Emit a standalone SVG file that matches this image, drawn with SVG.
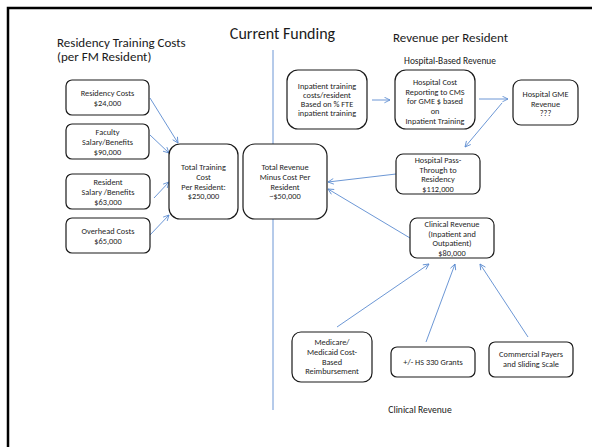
<svg xmlns="http://www.w3.org/2000/svg" width="592" height="447" viewBox="0 0 592 447">
  <style>
    .frame { fill: none; stroke: #000; stroke-width: 2.5; }
    .box { fill: #fff; stroke: #1a1a1a; stroke-width: 1.2; }
    .t { font-family: Carlito, "Liberation Sans", Arial, sans-serif; font-size: 8.3px; fill: #262626; text-anchor: middle; }
    .h { font-family: Carlito, "Liberation Sans", Arial, sans-serif; fill: #1a1a1a; }
    .conn { stroke: #5b8bd0; stroke-width: 0.9; fill: none; }
    .arr { marker-end: url(#open); }
  </style>
  <defs>
    <marker id="open" viewBox="0 0 10 10" refX="9" refY="5" markerWidth="7" markerHeight="7" orient="auto" markerUnits="userSpaceOnUse">
      <path d="M1,1 L9,5 L1,9" fill="none" stroke="#5b8bd0" stroke-width="1.2"/>
    </marker>
  </defs>

  <rect width="592" height="447" fill="#fff"/>
  <!-- page frame (only top and left edges fall inside the view) -->
  <rect class="frame" x="8" y="8" width="600" height="460"/>

  <!-- headings -->
  <text class="h" x="282.5" y="39" font-size="16" text-anchor="middle">Current Funding</text>
  <text class="h" x="57" y="47" font-size="13">Residency Training Costs</text>
  <text class="h" x="57" y="61" font-size="13">(per FM Resident)</text>
  <text class="h" x="393" y="42" font-size="13">Revenue per Resident</text>
  <text class="h" x="450" y="64" font-size="9.4" text-anchor="middle">Hospital-Based Revenue</text>
  <text class="h" x="420" y="413" font-size="9.6" text-anchor="middle">Clinical Revenue</text>

  <!-- connectors -->
  <g id="connectors">
    <line class="conn" x1="273" y1="50" x2="273" y2="410" stroke-width="1.2"/>
    <line class="conn arr" x1="150" y1="98" x2="178" y2="143"/>
    <line class="conn arr" x1="150" y1="135" x2="169" y2="153"/>
    <line class="conn arr" x1="154" y1="198" x2="169" y2="182"/>
    <line class="conn arr" x1="150" y1="235" x2="169" y2="215"/>
    <line class="conn arr" x1="372" y1="100" x2="390" y2="100"/>
    <line class="conn arr" x1="479" y1="99" x2="508" y2="99"/>
    <line class="conn arr" x1="502" y1="103" x2="465" y2="147"/>
    <line class="conn arr" x1="396" y1="174" x2="328" y2="182"/>
    <line class="conn arr" x1="410" y1="238" x2="328" y2="189"/>
    <line class="conn arr" x1="337" y1="327" x2="429" y2="264"/>
    <line class="conn arr" x1="426" y1="342" x2="455" y2="264"/>
    <line class="conn arr" x1="528" y1="337" x2="480" y2="264"/>
  </g>

  <!-- cost side -->
  <g id="residency-costs">
    <rect class="box" x="66" y="80" width="83" height="35" rx="6"/>
    <text class="t" x="107.5" y="96">Residency Costs</text>
    <text class="t" x="107.5" y="106">$24,000</text>
  </g>
  <g id="faculty">
    <rect class="box" x="66" y="124" width="83" height="35" rx="6"/>
    <text class="t" x="107.5" y="135">Faculty</text>
    <text class="t" x="107.5" y="145">Salary/Benefits</text>
    <text class="t" x="107.5" y="155">$90,000</text>
  </g>
  <g id="resident-salary">
    <rect class="box" x="66" y="174" width="84" height="35" rx="6"/>
    <text class="t" x="108" y="185">Resident</text>
    <text class="t" x="108" y="195">Salary /Benefits</text>
    <text class="t" x="108" y="205">$63,000</text>
  </g>
  <g id="overhead">
    <rect class="box" x="66" y="218" width="84" height="35" rx="6"/>
    <text class="t" x="108" y="234">Overhead Costs</text>
    <text class="t" x="108" y="244">$65,000</text>
  </g>
  <g id="total-training">
    <rect class="box" x="169" y="144" width="69" height="75" rx="11"/>
    <text class="t" x="203.5" y="170">Total Training</text>
    <text class="t" x="203.5" y="180">Cost</text>
    <text class="t" x="203.5" y="189.5">Per Resident:</text>
    <text class="t" x="203.5" y="199">$250,000</text>
  </g>
  <g id="total-revenue">
    <rect class="box" x="243" y="144" width="84" height="75" rx="12"/>
    <text class="t" x="285" y="170">Total Revenue</text>
    <text class="t" x="285" y="180">Minus Cost Per</text>
    <text class="t" x="285" y="189.5">Resident</text>
    <text class="t" x="285" y="199">~$50,000</text>
  </g>

  <!-- hospital-based revenue -->
  <g id="inpatient-training">
    <rect class="box" x="287" y="70" width="80" height="59" rx="11"/>
    <text class="t" x="327" y="89">Inpatient training</text>
    <text class="t" x="327" y="98">costs/resident</text>
    <text class="t" x="327" y="107">Based on % FTE</text>
    <text class="t" x="327" y="116">inpatient training</text>
  </g>
  <g id="cms-reporting">
    <rect class="box" x="395" y="70" width="80" height="59" rx="11"/>
    <text class="t" x="435" y="85">Hospital Cost</text>
    <text class="t" x="435" y="94.5">Reporting to CMS</text>
    <text class="t" x="435" y="104">for GME $ based</text>
    <text class="t" x="435" y="114">on</text>
    <text class="t" x="435" y="123.5">Inpatient Training</text>
  </g>
  <g id="gme-revenue">
    <rect class="box" x="513" y="80" width="65" height="45" rx="8"/>
    <text class="t" x="545.5" y="97">Hospital GME</text>
    <text class="t" x="545.5" y="106.5">Revenue</text>
    <text class="t" x="545.5" y="116">???</text>
  </g>
  <g id="pass-through">
    <rect class="box" x="396" y="154" width="84" height="40" rx="7"/>
    <text class="t" x="438" y="163">Hospital Pass-</text>
    <text class="t" x="438" y="172.5">Through to</text>
    <text class="t" x="438" y="182">Residency</text>
    <text class="t" x="438" y="192">$112,000</text>
  </g>

  <!-- clinical revenue -->
  <g id="clinical-revenue">
    <rect class="box" x="410" y="218" width="84" height="40" rx="7"/>
    <text class="t" x="452" y="227">Clinical Revenue</text>
    <text class="t" x="452" y="236.5">(Inpatient and</text>
    <text class="t" x="452" y="246">Outpatient)</text>
    <text class="t" x="452" y="256">$80,000</text>
  </g>
  <g id="medicare">
    <rect class="box" x="292" y="332" width="80" height="50" rx="9"/>
    <text class="t" x="332" y="345">Medicare/</text>
    <text class="t" x="332" y="355">Medicaid Cost-</text>
    <text class="t" x="332" y="365">Based</text>
    <text class="t" x="332" y="374">Reimbursement</text>
  </g>
  <g id="hs330">
    <rect class="box" x="391" y="347" width="84" height="30" rx="6"/>
    <text class="t" x="433" y="365">+/- HS 330 Grants</text>
  </g>
  <g id="commercial">
    <rect class="box" x="489" y="342" width="84" height="35" rx="6"/>
    <text class="t" x="531" y="357">Commercial Payers</text>
    <text class="t" x="531" y="367">and Sliding Scale</text>
  </g>
</svg>
